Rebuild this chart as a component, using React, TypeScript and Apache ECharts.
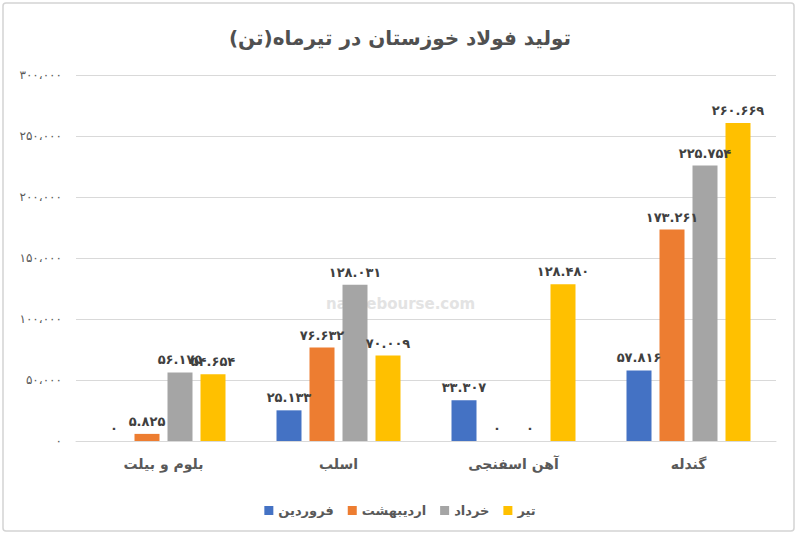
import React, { useEffect, useRef } from "react";
import * as echarts from "echarts";

const categories = ["بلوم و بیلت", "اسلب", "آهن اسفنجی", "گندله"];
const seriesNames = ["فروردین", "اردیبهشت", "خرداد", "تیر"];
const farvardin = [0, 25133, 33307, 57816];
const ordibehesht = [5825, 76632, 0, 173261];
const khordad = [56175, 128031, 0, 225754];
const tir = [54654, 70009, 128480, 260669];
const colors = ["#4472C4", "#ED7D31", "#A5A5A5", "#FFC000"];
const titleText = "تولید فولاد خوزستان در تیرماه(تن)";

const faDigits = "۰۱۲۳۴۵۶۷۸۹";
const toFa = (n: number, sep: string) =>
  Math.round(n)
    .toLocaleString("en-US")
    .replace(/,/g, sep)
    .replace(/\d/g, (d) => faDigits[+d]);

const FONT = "DejaVu Sans";

export default function App() {
  const ref = useRef<HTMLDivElement>(null);
  useEffect(() => {
    if (!ref.current) return;
    const chart = echarts.init(ref.current, undefined, { renderer: "svg" });
    const data = [farvardin, ordibehesht, khordad, tir];
    chart.setOption({
      animation: false,
      backgroundColor: "#ffffff",
      textStyle: { fontFamily: FONT },
      title: {
        text: titleText,
        left: "center",
        top: 23,
        textStyle: { fontFamily: FONT, fontSize: 20, fontWeight: "bold", color: "#505050" },
      },
      graphic: [
        {
          type: "rect",
          z: -10,
          shape: { x: 3, y: 3, width: 791, height: 528, r: 3 },
          style: { fill: "none", stroke: "#d4d4d4", lineWidth: 1.5 },
        },
        {
          type: "text",
          z: -5,
          left: 326,
          top: 296,
          style: { text: "nabzebourse.com", fontFamily: FONT, fontSize: 15, fontWeight: "bold", fill: "#e3e3e3" },
        },
      ],
      legend: {
        bottom: 14,
        left: "center",
        icon: "rect",
        itemWidth: 9,
        itemHeight: 9,
        itemGap: 14,
        textStyle: { fontFamily: FONT, fontSize: 13, color: "#595959", fontWeight: "bold" },
        data: seriesNames,
      },
      grid: { left: 76, right: 24, top: 75, bottom: 95 },
      xAxis: {
        type: "category",
        data: categories,
        axisLine: { lineStyle: { color: "#d9d9d9" } },
        axisTick: { show: false },
        axisLabel: { margin: 16, fontFamily: FONT, fontSize: 14, fontWeight: "bold", color: "#595959" },
      },
      yAxis: {
        type: "value",
        min: 0,
        max: 300000,
        interval: 50000,
        axisLine: { show: false },
        axisTick: { show: false },
        splitLine: { lineStyle: { color: "#d9d9d9" } },
        axisLabel: {
          margin: 14,
          fontFamily: FONT,
          fontSize: 12,
          color: "#595959",
          formatter: (v: number) => toFa(v, "،"),
        },
      },
      series: seriesNames.map((name, i) => ({
        name,
        type: "bar",
        data: data[i],
        barWidth: 25,
        barGap: "32%",
        itemStyle: { color: colors[i] },
        label: {
          show: true,
          position: "top",
          distance: 6,
          fontFamily: FONT,
          fontSize: 13,
          fontWeight: "bold",
          color: "#404040",
          formatter: (p: any) => toFa(p.value, "."),
        },
      })),
    });
    return () => chart.dispose();
  }, []);
  return (
    <div
      ref={ref}
      style={{ position: "fixed", left: 0, top: 0, width: 800, height: 536 }}
    />
  );
}
